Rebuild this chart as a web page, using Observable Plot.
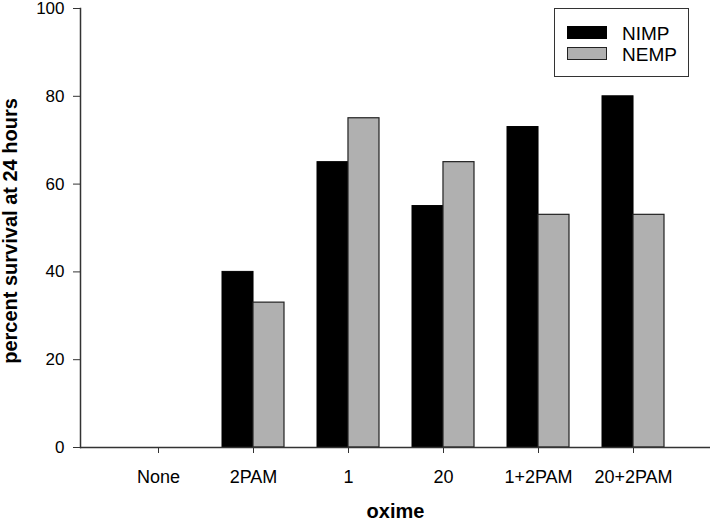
<!DOCTYPE html>
<html>
<head>
<meta charset="utf-8">
<script src="https://cdn.jsdelivr.net/npm/d3@7"></script>
<script src="https://cdn.jsdelivr.net/npm/@observablehq/plot@0.6"></script>
<style>
  html, body { margin: 0; padding: 0; background: #fff; }
  #wrap { position: relative; width: 710px; height: 520px; font-family: "Liberation Sans", Arial, sans-serif; }
  #legend { position: absolute; left: 554px; top: 8px; width: 133px; height: 67px; border: 1px solid #333; background: #fff; }
  .sw { position: absolute; left: 12px; width: 38px; height: 11px; border: 1px solid #222; }
  .lt { position: absolute; left: 67px; font-size: 19px; line-height: 19px; color: #000; white-space: nowrap; }
</style>
</head>
<body>
<div id="wrap"></div>
<script>
const categories = ["None", "2PAM", "1", "20", "1+2PAM", "20+2PAM"];
const seriesNames = ["NIMP", "NEMP"];
const nimp = [0, 40, 65, 55, 73, 80];
const nemp = [0, 33, 75, 65, 53, 53];
const yTicks = [0, 20, 40, 60, 80, 100];
const colors = ["#000000", "#b0b0b0"];

const rows = [];
categories.forEach((c, i) => {
  rows.push({oxime: c, series: seriesNames[0], value: nimp[i]});
  rows.push({oxime: c, series: seriesNames[1], value: nemp[i]});
});

const W = 710, H = 520, mL = 80, mR = 0, mT = 8, mB = 73;
const xOpts = {type: "band", domain: categories, range: [mL, W - mR], paddingInner: 0.35, paddingOuter: 0.48};
const bw = Plot.scale({x: xOpts}).bandwidth;
const half = bw / 2;

const font = '"Liberation Sans", Arial, sans-serif';

const chart = Plot.plot({
  width: W,
  height: H,
  marginLeft: mL,
  marginRight: mR,
  marginTop: mT,
  marginBottom: mB,
  style: {fontFamily: font, background: "#fff", color: "#000"},
  x: {domain: categories, paddingInner: 0.35, paddingOuter: 0.48, axis: null},
  y: {domain: [0, 100], axis: null},
  color: {domain: seriesNames, range: colors},
  marks: [
    Plot.barY(rows.filter(d => d.series === "NIMP"), {x: "oxime", y: "value", fill: "series", stroke: "#000", strokeWidth: 1, insetRight: half, insetLeft: 0}),
    Plot.barY(rows.filter(d => d.series === "NEMP"), {x: "oxime", y: "value", fill: "series", stroke: "#222", strokeWidth: 1.2, insetLeft: half, insetRight: 0}),
    Plot.ruleY([0], {stroke: "#333", strokeWidth: 1.5}),
    Plot.frame({anchor: "left", stroke: "#333", strokeWidth: 1.5}),
    Plot.axisY({ticks: yTicks, tickSize: 7, tickPadding: 9, fontSize: 17, stroke: "#333", label: null, tickFormat: d => String(d)}),
    Plot.axisX({tickSize: 6, tickPadding: 17, fontSize: 18, stroke: "#333", label: null}),
    Plot.text(["oxime"], {frameAnchor: "bottom", dy: 70, text: d => d, fontSize: 20, fontWeight: "bold", fill: "#000"}),
    Plot.text(["percent survival at 24 hours"], {frameAnchor: "left", textAnchor: "middle", dx: -70, dy: 3, rotate: -90, text: d => d, fontSize: 20, fontWeight: "bold", fill: "#000"})
  ]
});

const wrap = document.getElementById("wrap");
wrap.appendChild(chart);

const legend = document.createElement("div");
legend.id = "legend";
seriesNames.forEach((name, i) => {
  const sw = document.createElement("div");
  sw.className = "sw";
  sw.style.top = (i === 0 ? 17 : 38) + "px";
  sw.style.background = colors[i];
  if (i === 0) sw.style.borderColor = "#000";
  legend.appendChild(sw);
  const t = document.createElement("div");
  t.className = "lt";
  t.style.top = (i === 0 ? 15 : 36) + "px";
  t.textContent = name;
  legend.appendChild(t);
});
wrap.appendChild(legend);
</script>
</body>
</html>
